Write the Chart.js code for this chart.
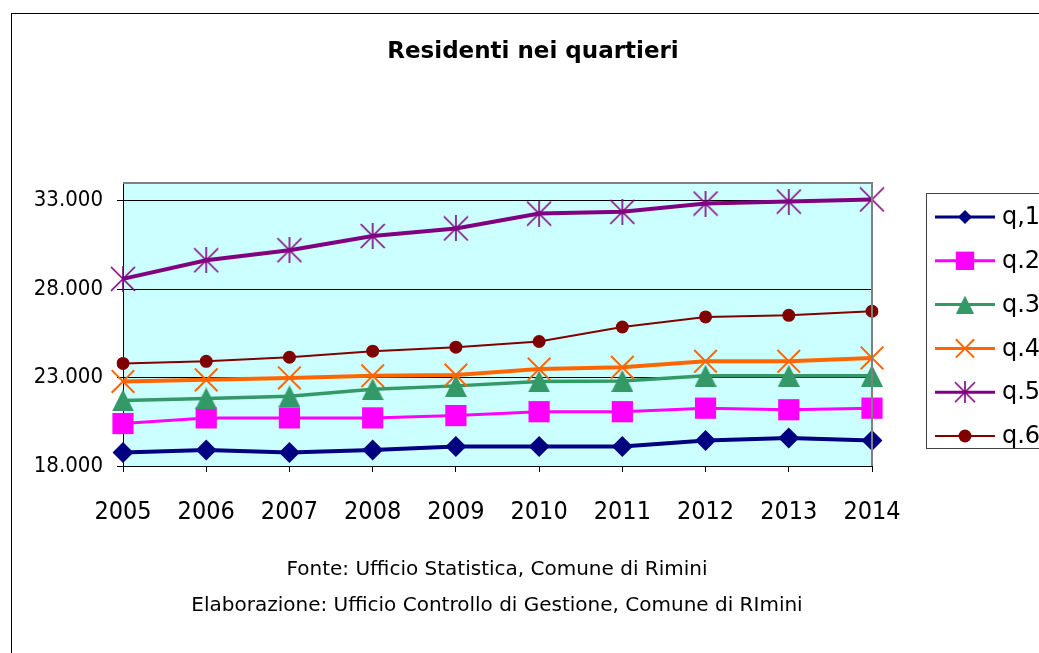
<!DOCTYPE html>
<html lang="it">
  <head>
    <meta charset="UTF-8" />
    <title>Residenti nei quartieri</title>
    <script src="https://cdn.jsdelivr.net/npm/chart.js"></script>
    <style>
      body {
        margin: 0;
        padding: 0;
        background: #fff;
      }
      .wrap {
        position: relative;
        width: 1039px;
        height: 653px;
      }
    </style>
  </head>
  <body>
    <div class="wrap">
      <canvas id="chart"></canvas>
    </div>

    <script>
      const years = ["2005", "2006", "2007", "2008", "2009", "2010", "2011", "2012", "2013", "2014"];
      const seriesNames = ["q,1", "q.2", "q.3", "q.4", "q.5", "q.6"];
      const q1 = [18760, 18910, 18760, 18910, 19100, 19100, 19100, 19440, 19580, 19440];
      const q2 = [20400, 20720, 20720, 20720, 20850, 21070, 21070, 21270, 21180, 21270];
      const q3 = [21710, 21820, 21940, 22340, 22530, 22780, 22810, 23100, 23100, 23100];
      const q4 = [22780, 22870, 22980, 23100, 23140, 23480, 23580, 23920, 23920, 24110];
      const q5 = [28580, 29630, 30200, 31000, 31430, 32270, 32370, 32840, 32950, 33070];
      const q6 = [23800, 23920, 24150, 24490, 24720, 25040, 25860, 26430, 26520, 26750];
      const yTicks = [18000, 23000, 28000, 33000];

      const NARROW = "'DejaVu Sans Condensed', 'DejaVu Sans', sans-serif";
      const WIDE = "'DejaVu Sans', sans-serif";

      // markers that chart.js doesn't have in the Excel shape
      function makeTriangle(color, size) {
        const c = document.createElement("canvas");
        c.width = size;
        c.height = size;
        const g = c.getContext("2d");
        g.fillStyle = color;
        g.beginPath();
        g.moveTo(size / 2, 0);
        g.lineTo(size, size);
        g.lineTo(0, size);
        g.closePath();
        g.fill();
        return c;
      }

      function makeStar(color, size) {
        const c = document.createElement("canvas");
        c.width = size;
        c.height = size;
        const g = c.getContext("2d");
        g.strokeStyle = color;
        g.lineWidth = 1.6;
        g.beginPath();
        g.moveTo(size / 2, 0);
        g.lineTo(size / 2, size);
        g.moveTo(1, 1);
        g.lineTo(size - 1, size - 1);
        g.moveTo(size - 1, 1);
        g.lineTo(1, size - 1);
        g.stroke();
        return c;
      }

      const styles = [
        { color: "#000080", width: 4, point: "rectRot", radius: 10.5, legendRadius: 7 },
        { color: "#FF00FF", width: 3, point: "rect", radius: 15, legendRadius: 13 },
        { color: "#339966", width: 3.5, point: makeTriangle("#339966", 22), radius: 11, legendRadius: 9,
          legendPoint: makeTriangle("#339966", 18) },
        { color: "#FF6600", width: 4, point: "crossRot", radius: 16, legendRadius: 13, border: 2 },
        { color: "#800080", width: 4, point: makeStar("#800080", 26), radius: 13, legendRadius: 11,
          legendPoint: makeStar("#800080", 22) },
        { color: "#800000", width: 2, point: "circle", radius: 6.5, legendRadius: 6.5 },
      ];
      const seriesData = [q1, q2, q3, q4, q5, q6];

      const datasets = seriesData.map((vals, i) => ({
        label: seriesNames[i],
        data: vals,
        borderColor: styles[i].color,
        backgroundColor: styles[i].color,
        borderWidth: styles[i].width,
        pointStyle: styles[i].point,
        pointRadius: styles[i].radius,
        pointHoverRadius: styles[i].radius,
        pointBorderWidth: styles[i].border || 0,
        pointBackgroundColor: styles[i].color,
        pointBorderColor: styles[i].color,
        tension: 0,
        order: 6 - i,
      }));

      function fmt(v) {
        return String(v).replace(/\B(?=(\d{3})+(?!\d))/g, ".");
      }

      const decor = {
        id: "decor",
        beforeDraw(chart) {
          const { ctx, chartArea: a } = chart;
          ctx.save();
          ctx.fillStyle = "#fff";
          ctx.fillRect(0, 0, chart.width, chart.height);
          ctx.fillStyle = "#CCFFFF";
          ctx.fillRect(a.left, a.top, a.right - a.left, a.bottom - a.top);
          ctx.restore();
        },
        afterDraw(chart) {
          const { ctx, chartArea: a } = chart;
          ctx.save();
          // plot area frame (top, right)
          ctx.strokeStyle = "#808080";
          ctx.lineWidth = 2;
          ctx.beginPath();
          ctx.moveTo(a.left, a.top);
          ctx.lineTo(a.right, a.top);
          ctx.lineTo(a.right, a.bottom);
          ctx.stroke();

          // outer frame
          ctx.strokeStyle = "#000";
          ctx.lineWidth = 1;
          ctx.strokeRect(11.5, 13.5, 1200, 800);

          // title
          ctx.fillStyle = "#000";
          ctx.textAlign = "center";
          ctx.textBaseline = "alphabetic";
          ctx.font = "bold 23px " + WIDE;
          ctx.fillText("Residenti nei quartieri", 533, 58);

          // notes
          ctx.font = "20px " + WIDE;
          ctx.fillText("Fonte: Ufficio Statistica, Comune di Rimini", 497, 575);
          ctx.fillText("Elaborazione: Ufficio Controllo di Gestione, Comune di RImini", 497, 611);

          // legend
          ctx.fillStyle = "#fff";
          ctx.fillRect(926, 193, 200, 255);
          ctx.strokeStyle = "#404040";
          ctx.lineWidth = 1;
          ctx.strokeRect(926.5, 193.5, 200, 255);
          chart.data.datasets.forEach((ds, i) => {
            const y = 217 + i * 43.8;
            const st = styles[i];
            ctx.strokeStyle = st.color;
            ctx.fillStyle = st.color;
            ctx.lineWidth = Math.min(st.width, 3);
            ctx.beginPath();
            ctx.moveTo(935, y);
            ctx.lineTo(995, y);
            ctx.stroke();
            ctx.lineWidth = st.border || 1;
            Chart.helpers.drawPoint(
              ctx,
              { pointStyle: st.legendPoint || st.point, radius: st.legendRadius, rotation: 0, borderWidth: st.border || 0 },
              965,
              y
            );
            ctx.fillStyle = "#000";
            ctx.textAlign = "left";
            ctx.textBaseline = "middle";
            ctx.font = "24px " + WIDE;
            ctx.fillText(ds.label, 1002, y + 1);
          });
          ctx.restore();
        },
      };

      new Chart(document.getElementById("chart"), {
        type: "line",
        data: { labels: years, datasets },
        options: {
          responsive: true,
          maintainAspectRatio: false,
          animation: false,
          layout: { padding: { left: 0, top: 183, right: 167, bottom: 0 } },
          plugins: {
            legend: { display: false },
            title: { display: false },
            tooltip: { enabled: false },
          },
          scales: {
            x: {
              offset: false,
              grid: {
                drawOnChartArea: false,
                drawTicks: true,
                tickLength: 6,
                color: "#000",
              },
              border: { color: "#000", width: 1 },
              ticks: {
                color: "#000",
                font: { family: NARROW, size: 25 },
                padding: 25,
                maxRotation: 0,
                autoSkip: false,
              },
              afterFit(scale) {
                scale.height = 187;
              },
            },
            y: {
              min: 18000,
              max: 34000,
              grid: { color: "#000", lineWidth: 1, tickLength: 6 },
              border: { color: "#000", width: 1 },
              afterBuildTicks(scale) {
                scale.ticks = yTicks.map((v) => ({ value: v }));
              },
              ticks: {
                color: "#000",
                font: { family: NARROW, size: 22 },
                padding: 14,
                callback: (v) => fmt(v),
              },
              afterFit(scale) {
                scale.width = 123;
              },
            },
          },
        },
        plugins: [decor],
      });
    </script>
  </body>
</html>
